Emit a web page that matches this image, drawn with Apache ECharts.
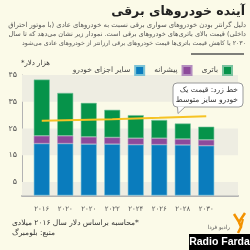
<!DOCTYPE html>
<html>
<head>
<meta charset="utf-8">
<script src="https://cdn.jsdelivr.net/npm/echarts@6/dist/echarts.min.js"></script>
<style>
html,body{margin:0;padding:0;background:#fbfae8;}
#c{width:250px;height:250px;}
</style>
</head>
<body>
<div id="c"></div>
<script>
const categories = ['۲۰۱۶','۲۰۲۰','۲۰۲۰','۲۰۲۲','۲۰۲۴','۲۰۲۶','۲۰۲۸','۲۰۳۰'];
const otherParts = [19.4,19.4,19.2,19.2,19.0,19.0,18.9,18.6];
const powertrain = [2.9,2.9,2.7,2.5,2.4,2.4,2.2,2.2];
const battery = [21.0,16.0,12.7,10.3,8.6,6.8,5.8,4.9];
const midSizePrice = [27.9,28.1,28.3,28.5,28.8,29.0,29.3,29.6];
const yTickValues = [5,15,25,35,45];
const yTickLabels = ['۵','۱۵','۲۵','۳۵','۴۵'];
const bandRanges = [[0,5],[15,25],[35,45]];
const seriesNames = ['سایر اجزای خودرو','پیشرانه','باتری'];
const titleText = 'آینده خودروهای برقی';
const descLines = [
 'دلیل گرانتر بودن خودروهای سواری برقی نسبت به خودروهای عادی (با موتور احتراق',
 'داخلی) قیمت بالای باتری‌های خودروهای برقی است. نمودار زیر نشان می‌دهد که تا سال',
 '۲۰۳۰ با کاهش قیمت باتری‌ها قیمت خودروهای برقی ارزانتر از خودروهای عادی می‌شود'
];
const unitText = 'هزار دلار*';
const calloutLines = ['خط زرد: قیمت یک','خودرو سایز متوسط'];
const footLines = ['*محاسبه براساس دلار سال ۲۰۱۶ میلادی','منبع: بلومبرگ'];

const F = 'DejaVu Sans';
function rtl(t){ return '\u202B' + t + '\u202C'; }
const mctx = document.createElement('canvas').getContext('2d');
const descWidths = [238, 238, 224];
const descY = [25, 34.3, 43.3];
const descGraphics = descLines.map(function(t, i){
  mctx.font = '10px ' + F;
  const w10 = mctx.measureText(t).width;
  const fs = Math.min(8, 10 * descWidths[i] / w10);
  return {type:'text', x:246, y:descY[i],
    style:{text:rtl(t), font:fs.toFixed(2)+'px '+F, fill:'#555', textAlign:'right', textVerticalAlign:'middle'}};
});

const chart = echarts.init(document.getElementById('c'), null, {renderer:'canvas'});
const TOP = 75, BOTTOM = 54.5;

chart.setOption({
  animation:false,
  backgroundColor:'#fbfae8',
  textStyle:{fontFamily:F},
  grid:[
    {left:30,right:32,top:TOP,bottom:BOTTOM},
    {left:22,right:12,top:TOP,bottom:BOTTOM}
  ],
  legend:{
    data:seriesNames, right:12, top:60, align:'right', itemWidth:9, itemHeight:9, itemGap:9,
    icon:'rect', textStyle:{fontSize:7.5, color:'#444', fontFamily:F}
  },
  xAxis:[
    {type:'category', gridIndex:0, data:categories, axisLine:{show:false}, axisTick:{show:false},
     axisLabel:{fontSize:7, color:'#555', fontFamily:F, margin:10}},
    {type:'value', gridIndex:1, min:0, max:1, axisLine:{show:true, lineStyle:{color:'#b3b3b3', width:2}},
     axisTick:{show:false}, axisLabel:{show:false}, splitLine:{show:false}}
  ],
  yAxis:[
    {type:'value', gridIndex:0, min:0, max:45, interval:5, show:false},
    {type:'value', gridIndex:1, min:0, max:45, interval:5,
     axisLine:{show:true, lineStyle:{color:'#b3b3b3', width:1}}, axisTick:{show:false},
     splitLine:{show:false},
     axisLabel:{fontSize:8, color:'#555', fontFamily:F, margin:5, customValues:yTickValues,
       showMaxLabel:true, showMinLabel:true,
       formatter:function(v){const i=yTickValues.indexOf(Math.round(v));return i>=0?yTickLabels[i]:'';}}}
  ],
  series:[
    {type:'line', xAxisIndex:1, yAxisIndex:1, data:[], silent:true, z:0,
     markArea:{silent:true, itemStyle:{color:'#eeede2'},
       data:bandRanges.map(r=>[{yAxis:r[0]},{yAxis:r[1]}])}},
    {name:seriesNames[0], type:'bar', stack:'t', barWidth:16, data:otherParts, z:2,
     itemStyle:{color:'#0a7cbd', borderColor:'#7cc3d6', borderWidth:0.6}},
    {name:seriesNames[1], type:'bar', stack:'t', barWidth:16, data:powertrain, z:2,
     itemStyle:{color:'#8d4a9b', borderColor:'#b58fbf', borderWidth:0.6}},
    {name:seriesNames[2], type:'bar', stack:'t', barWidth:16, data:battery, z:2,
     itemStyle:{color:'#06934a', borderColor:'#7cc3a0', borderWidth:0.6}},
    {type:'line', data:midSizePrice, symbol:'none', z:5, silent:true,
     lineStyle:{color:'#f6c324', width:2}}
  ],
  graphic:[
    {type:'text', right:5, top:5, style:{text:rtl(titleText), font:'bold 12.5px '+F, fill:'#222', textAlign:'right'}}
  ].concat(descGraphics).concat([
    {type:'line', shape:{x1:191,y1:54,x2:244,y2:54}, style:{stroke:'#555', lineWidth:1.5}},
    {type:'text', x:50, y:63, style:{text:rtl(unitText), font:'7px '+F, fill:'#333', textAlign:'right', textVerticalAlign:'middle'}},
    {type:'rect', shape:{x:173,y:83,width:70,height:24,r:4}, style:{fill:'#fff', stroke:'#9a9a9a', lineWidth:1}, z:10},
    {type:'polygon', shape:{points:[[177.5,106.5],[185,106.5],[178,113.5]]}, style:{fill:'#fff'}, z:11},
    {type:'polyline', shape:{points:[[177.5,107],[178,113.5],[185,107]]}, style:{stroke:'#9a9a9a', lineWidth:1}, z:11},
    {type:'text', x:238, y:90.5, z:12, style:{text:rtl(calloutLines[0]), font:'7.5px '+F, fill:'#333', textAlign:'right', textVerticalAlign:'middle'}},
    {type:'text', x:238, y:100.5, z:12, style:{text:rtl(calloutLines[1]), font:'7.5px '+F, fill:'#333', textAlign:'right', textVerticalAlign:'middle'}},
    {type:'text', x:12, y:223, style:{text:rtl(footLines[0]), font:'7.5px '+F, fill:'#333', textAlign:'left', textVerticalAlign:'middle'}},
    {type:'text', x:12, y:233, style:{text:rtl(footLines[1]), font:'7.5px '+F, fill:'#333', textAlign:'left', textVerticalAlign:'middle'}},
    {type:'polyline', shape:{points:[[234,214],[239,222],[245,213]]}, style:{stroke:'#f39200', lineWidth:2.5, fill:null}},
    {type:'polyline', shape:{points:[[239,222],[241,227],[238,233]]}, style:{stroke:'#f39200', lineWidth:2.5, fill:null}},
    {type:'polyline', shape:{points:[[243,219],[241,227]]}, style:{stroke:'#f39200', lineWidth:2, fill:null}},
    {type:'text', x:230, y:228, style:{text:rtl('رادیو فردا'), font:'5.5px '+F, fill:'#555', textAlign:'right', textVerticalAlign:'middle'}},
    {type:'rect', shape:{x:189,y:234,width:61,height:16}, style:{fill:'#000'}},
    {type:'text', x:219.5, y:242.5, style:{text:'Radio Farda', font:'bold 10.5px Liberation Sans', fill:'#fff', textAlign:'center', textVerticalAlign:'middle'}}
  ])
});
</script>
</body>
</html>
